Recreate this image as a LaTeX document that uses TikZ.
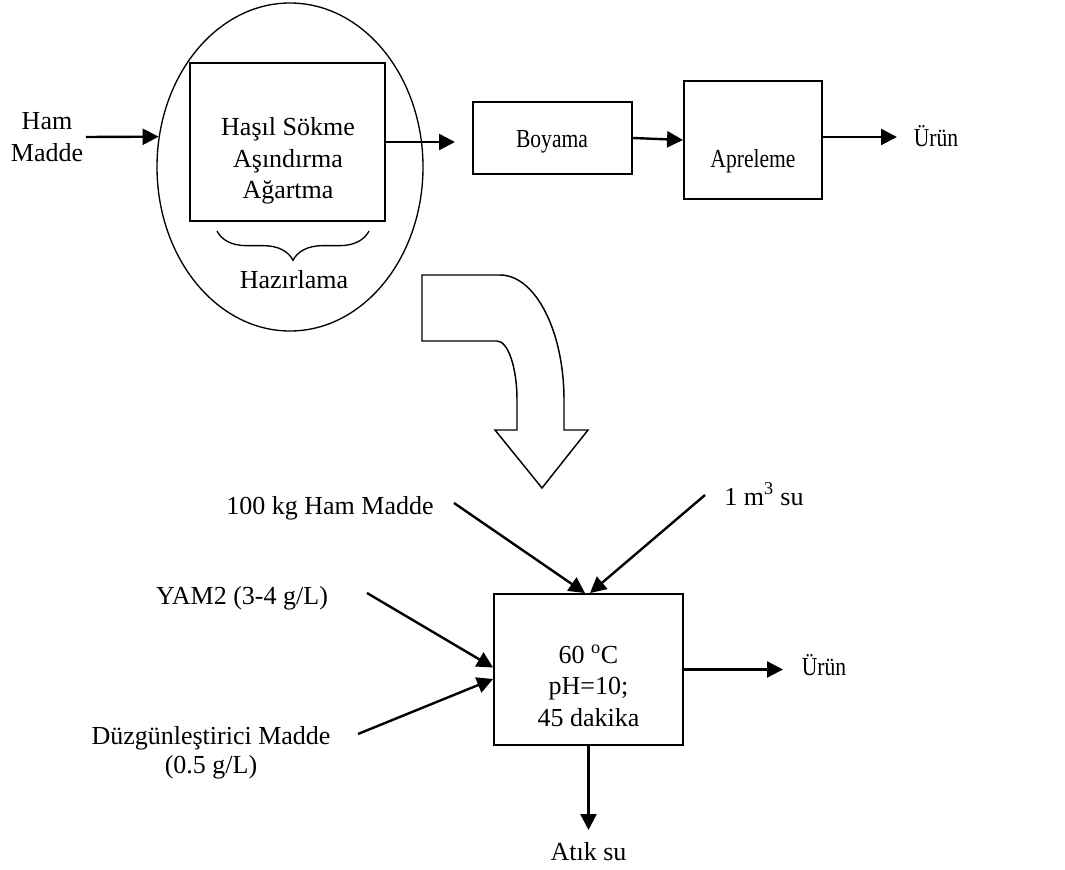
\documentclass[tikz,border=0pt]{standalone}
\usepackage{fontspec}
\setmainfont{Liberation Serif}
\newfontfamily\narrowserif[FakeStretch=0.83]{Liberation Serif}
\usetikzlibrary{arrows.meta,shapes.geometric,decorations.pathreplacing,calc,fit}

\begin{document}
\begin{tikzpicture}[x=0.75pt,y=-0.75pt,
  every node/.style={font=\fontsize{19.5}{23.6}\selectfont, inner sep=0pt},
  box/.style={draw, line width=1.4pt, inner sep=0pt},
  flow/.style={line width=1.8pt, -{Triangle[width=12pt,length=12pt]}},
  lbl/.style={anchor=base},
  ml/.style={align=center},
  narrow/.style={font=\fontsize{19.5}{23.6}\narrowserif}
]
% canvas
\fill[white] (0,0) rectangle (1065,870);
\useasboundingbox (0,0) rectangle (1065,870);

% ---------- upper process line ----------
\node[draw, ellipse, line width=1pt, minimum width=199.5pt, minimum height=246pt] (ell) at (290,167) {};
\node[box, fit={(190,63) (385,221)}] (prep) {};
\node[ml] (preptxt) at (288,161) {Haşıl Sökme\\Aşındırma\\Ağartma};
\coordinate (brL) at (217,231);
\coordinate (brR) at (369,231);
\draw[line width=1pt, decorate, decoration={brace, mirror, amplitude=22pt}] (brL) -- (brR);
\node[lbl] (hazir) at (294,289) {Hazırlama};

\node[ml] (hamtxt) at (47,137) {Ham\\Madde};
\coordinate (hamout) at (86,137);
\draw[flow] (hamout) -- (ell.167.1);

\node[box, fit={(473,102) (632,174)}] (boy) {};
\node[lbl, narrow] (boytxt) at (552,148) {Boyama};
\node[box, fit={(684,81) (822,199)}] (apr) {};
\node[lbl, narrow] (aprtxt) at (753,168) {Apreleme};
\node[lbl, narrow] (urun1) at (936,147) {Ürün};

\coordinate (prepout) at (455,142);
\coordinate (aprout) at (897,137);
\draw[flow] (prep.east) -- (prepout);
\draw[flow] (boy.east) -- (apr.west);
\draw[flow] ($(apr.east)+(0,-3)$) -- (aprout);

% ---------- bent transition arrow ----------
\draw[line width=1.1pt, line join=miter]
  (422,275) -- (500,275) .. controls (535.3,275) and (564,331) .. (564,400)
  -- (564,430) -- (588,430) -- (542,488) -- (495,430) -- (517,430) -- (517,400)
  .. controls (517,367.4) and (508,341) .. (497,341) -- (422,341) -- cycle;

% ---------- detailed step ----------
\node[box, fit={(494,594) (683,745)}] (mix) {};
\node[ml] (mixtxt) at (588.5,685.5) {60 \textsuperscript{o}C\\pH=10;\\45 dakika};

\node[lbl] (hm) at (330,514) {100 kg Ham Madde};
\node[lbl] (su) at (764,505) {1 m\textsuperscript{3} su};
\node[lbl] (yam) at (242,604) {YAM2 (3-4 g/L)};
\node[ml, font=\fontsize{19.5}{21.75}\selectfont] (duz) at (211,752.5) {Düzgünleştirici Madde\\(0.5 g/L)};
\node[lbl, narrow] (urun2) at (824,675) {Ürün};
\node[lbl] (atik) at (588.5,860) {Atık su};

\coordinate (t1) at (454,503);
\coordinate (t2) at (705,495);
\coordinate (t3) at (367,593);
\coordinate (t4) at (358,734);
\coordinate (mixout) at (783,669.5);
\coordinate (wasteout) at (588.5,830);
\draw[flow] (t1) -- ($(mix.north)+(-3.5,0)$);
\draw[flow] (t2) -- ($(mix.north)+(1.5,0)$);
\draw[flow] (t3) -- ($(mix.west)+(0,-2)$);
\draw[flow] (t4) -- ($(mix.west)+(0,9.5)$);
\draw[flow] (mix.east) -- (mixout);
\draw[flow] (mix.south) -- (wasteout);
\end{tikzpicture}
\end{document}
